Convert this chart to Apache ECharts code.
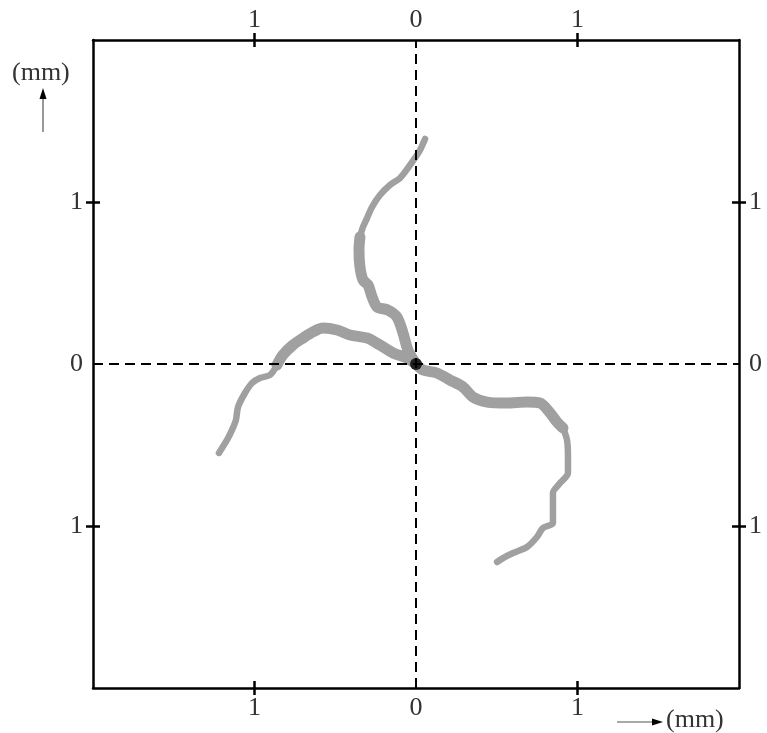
<!DOCTYPE html>
<html>
<head>
<meta charset="utf-8">
<script src="https://cdn.jsdelivr.net/npm/echarts@6/dist/echarts.min.js"></script>
<style>
  html, body { margin: 0; padding: 0; background: #fff; }
  #chart { width: 767px; height: 733px; }
</style>
</head>
<body>
<div id="chart"></div>
<script>
// axis ticks and labels (mm)
var tickValues = [-1, 1];
var labelValues = [-1, 0, 1];

// three branches from the origin, thick inner part + thin outer part (mm)
var upThick = [[0, 0], [-0.05, 0.086], [-0.08, 0.19], [-0.118, 0.29], [-0.173, 0.333], [-0.241, 0.352],
    [-0.272, 0.414], [-0.297, 0.488], [-0.328, 0.519], [-0.347, 0.599], [-0.353, 0.704], [-0.347, 0.784]];
var upThin = [[-0.347, 0.784], [-0.328, 0.846], [-0.303, 0.901], [-0.272, 0.969], [-0.223, 1.043],
    [-0.161, 1.105], [-0.099, 1.148], [-0.05, 1.21], [-0.006, 1.272], [0.025, 1.321], [0.056, 1.389]];
var leftThick = [[0, 0], [-0.056, 0.037], [-0.142, 0.068], [-0.223, 0.117], [-0.303, 0.16], [-0.409, 0.179],
    [-0.489, 0.21], [-0.576, 0.222], [-0.638, 0.198], [-0.7, 0.16], [-0.762, 0.117], [-0.824, 0.056], [-0.861, -0.006]];
var leftThin = [[-0.861, -0.006], [-0.904, -0.068], [-0.966, -0.086], [-1.015, -0.117], [-1.059, -0.179],
    [-1.102, -0.265], [-1.115, -0.346], [-1.139, -0.407], [-1.17, -0.469], [-1.22, -0.549]];
var rightThick = [[0, 0], [0.043, -0.037], [0.13, -0.056], [0.211, -0.099], [0.291, -0.142], [0.353, -0.204],
    [0.44, -0.235], [0.563, -0.241], [0.687, -0.235], [0.768, -0.241], [0.83, -0.302], [0.873, -0.358], [0.91, -0.395]];
var rightThin = [[0.91, -0.395], [0.935, -0.469], [0.941, -0.574], [0.941, -0.673], [0.892, -0.735],
    [0.848, -0.796], [0.848, -0.901], [0.848, -0.981], [0.786, -1.012], [0.749, -1.068], [0.687, -1.13],
    [0.601, -1.167], [0.539, -1.198], [0.502, -1.222]];
var origin = [[0, 0]];

var font = 'Liberation Serif';
var gray = '#a0a0a0';

function mainAxis(pos, margin) {
    return {
        type: 'value', position: pos, min: -2, max: 2, interval: 1,
        axisLine: { show: true, onZero: false, lineStyle: { color: '#000', width: 2.5 } },
        axisTick: { show: true, inside: false, length: 7, customValues: tickValues,
            lineStyle: { color: '#000', width: 2.5 } },
        axisLabel: { show: true, customValues: labelValues, margin: margin,
            fontFamily: font, fontSize: 26, color: '#333',
            formatter: function (v) { return String(Math.abs(v)); } },
        splitLine: { show: false }
    };
}
function innerAxis(pos) {
    return {
        type: 'value', position: pos, min: -2, max: 2, interval: 1,
        axisLine: { show: false, onZero: false },
        axisTick: { show: true, inside: true, length: 7, customValues: tickValues,
            lineStyle: { color: '#000', width: 2.5 } },
        axisLabel: { show: false },
        splitLine: { show: false }
    };
}
function branch(data, width) {
    return {
        type: 'line', data: data, xAxisIndex: 0, yAxisIndex: 0,
        smooth: 0.3, showSymbol: false, symbol: 'none', silent: true,
        lineStyle: { color: gray, width: width, cap: 'round', join: 'round' },
        z: 3
    };
}

var chart = echarts.init(document.getElementById('chart'));
chart.setOption({
    animation: false,
    grid: { left: 93, top: 40, width: 646, height: 648 },
    xAxis: [mainAxis('bottom', 7), mainAxis('top', 7), innerAxis('bottom'), innerAxis('top')],
    yAxis: [mainAxis('left', 10), mainAxis('right', 10), innerAxis('left'), innerAxis('right')],
    series: [
        {
            type: 'scatter', data: origin, xAxisIndex: 0, yAxisIndex: 0,
            symbolSize: 12, itemStyle: { color: '#000' }, z: 5, silent: true,
            markLine: {
                silent: true, symbol: 'none', label: { show: false },
                lineStyle: { color: '#000', width: 2, type: [10, 6] },
                data: [{ xAxis: 0 }, { yAxis: 0 }]
            }
        },
        branch(upThick, 11), branch(upThin, 6.5),
        branch(leftThick, 11), branch(leftThin, 6.5),
        branch(rightThick, 11), branch(rightThin, 6.5)
    ],
    graphic: [
        { type: 'text', left: 12, top: 60,
          style: { text: '(mm)', font: '26px "Liberation Serif"', fill: '#333' } },
        { type: 'line', shape: { x1: 43, y1: 132, x2: 43, y2: 97 },
          style: { stroke: '#555', lineWidth: 1.2 } },
        { type: 'polygon', shape: { points: [[43, 88], [39.5, 99], [46.5, 99]] },
          style: { fill: '#000' } },
        { type: 'line', shape: { x1: 617, y1: 722, x2: 653, y2: 722 },
          style: { stroke: '#555', lineWidth: 1.2 } },
        { type: 'polygon', shape: { points: [[663, 722], [652, 718.5], [652, 725.5]] },
          style: { fill: '#000' } },
        { type: 'text', left: 666, top: 707,
          style: { text: '(mm)', font: '26px "Liberation Serif"', fill: '#333' } }
    ]
});
</script>
</body>
</html>
